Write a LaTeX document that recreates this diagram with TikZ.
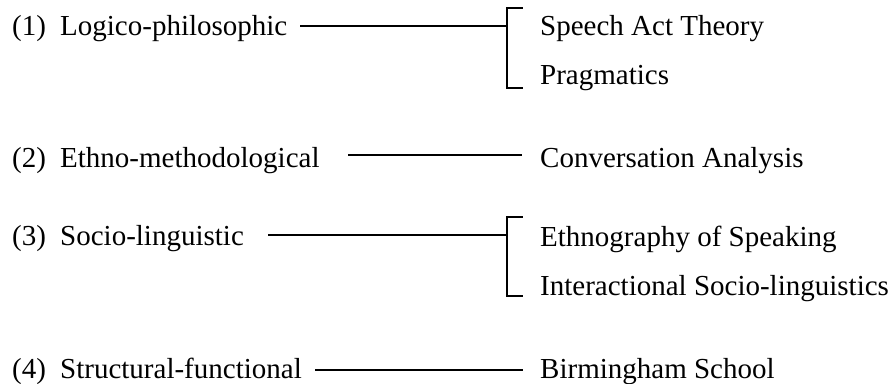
\documentclass[tikz,border=0pt]{standalone}
\usepackage{fontspec}
\setmainfont{Liberation Serif}
\begin{document}
\begin{tikzpicture}[x=1bp,y=-1bp,
  lbl/.style={anchor=base west,inner sep=0pt,font=\fontsize{29bp}{35bp}\selectfont},
  link/.style={line width=1.3bp},
  brace/.style={line width=1.3bp,line cap=rect}]
\useasboundingbox (0,0) rectangle (895,383);

% approaches (left column)
\node[lbl] (n1) at (12,35) {(1)};
\node[lbl] (a1) at (60,35) {Logico-philosophic};
\node[lbl] (n2) at (12,167) {(2)};
\node[lbl] (a2) at (60,167) {Ethno-methodological};
\node[lbl] (n3) at (12,245) {(3)};
\node[lbl] (a3) at (60,245) {Socio-linguistic};
\node[lbl] (n4) at (12,378) {(4)};
\node[lbl] (a4) at (60,378) {Structural-functional};

% schools (right column)
\node[lbl] (s1a) at (540,35) {Speech Act Theory};
\node[lbl] (s1b) at (540,84) {Pragmatics};
\node[lbl] (s2) at (540,167) {Conversation Analysis};
\node[lbl] (s3a) at (540,246) {Ethnography of Speaking};
\node[lbl] (s3b) at (540,295) {Interactional Socio-linguistics};
\node[lbl] (s4) at (540,378) {Birmingham School};

% connector end points
\coordinate (l1) at (300,26);  \coordinate (r1) at (507,26);
\coordinate (l2) at (348,155); \coordinate (r2) at (522,155);
\coordinate (l3) at (268,235); \coordinate (r3) at (507,235);
\coordinate (l4) at (315,370); \coordinate (r4) at (523,370);
\coordinate (b1t) at (522,8);   \coordinate (b1b) at (522,88);
\coordinate (b3t) at (522,217); \coordinate (b3b) at (522,296);

% connectors
\draw[link] (l1) -- (r1);
\draw[link] (l2) -- (r2);
\draw[link] (l3) -- (r3);
\draw[link] (l4) -- (r4);

% brackets
\draw[brace] (b1t) -- (507,8) -- (507,88) -- (b1b);
\draw[brace] (b3t) -- (507,217) -- (507,296) -- (b3b);
\end{tikzpicture}
\end{document}
